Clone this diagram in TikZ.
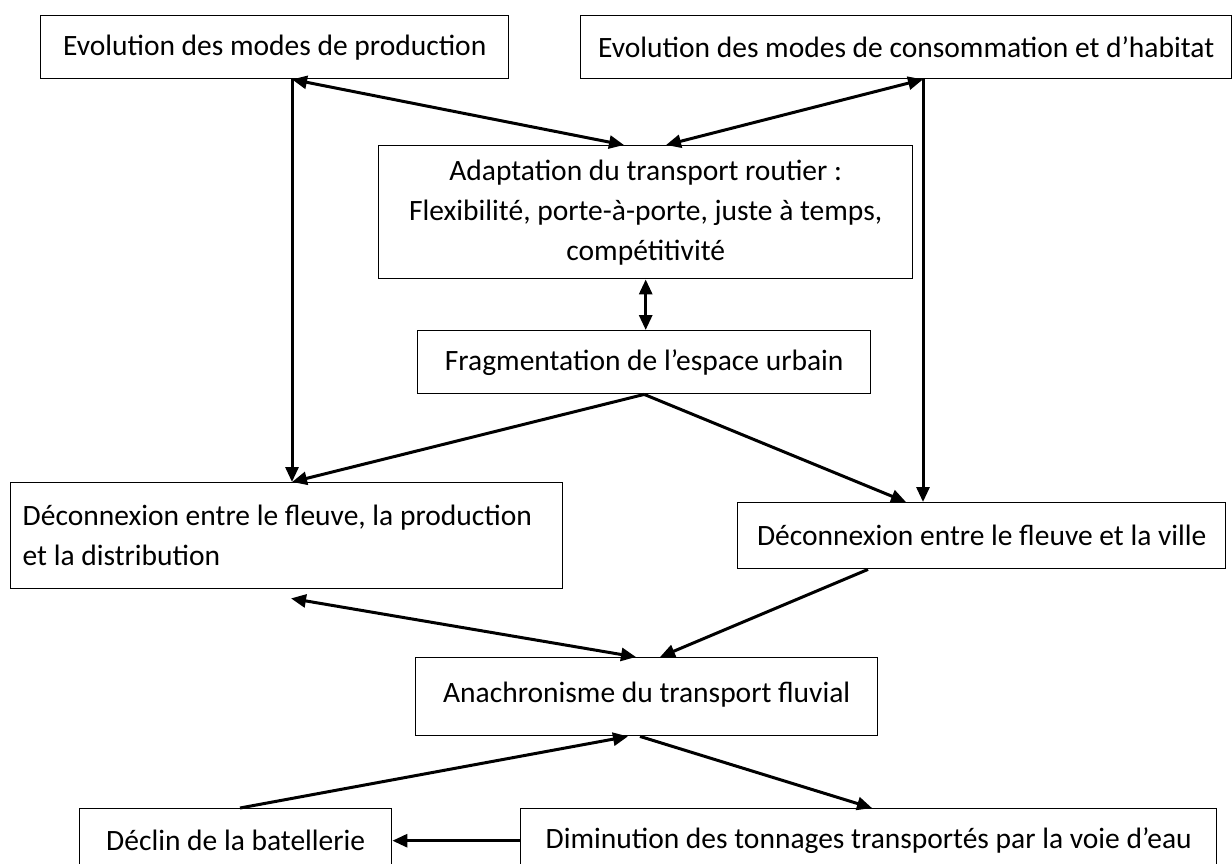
\documentclass[tikz,border=0pt]{standalone}
\usepackage{fontspec}
\setmainfont{Carlito}
\usetikzlibrary{arrows.meta,calc}
\begin{document}
\begin{tikzpicture}[x=1pt,y=-1pt,
  box/.style={draw, line width=1.4pt, rectangle, anchor=north west, inner sep=0pt, align=center,
    font=\fontsize{29.5}{40}\selectfont},
  conn/.style={line width=3pt},
  >={Triangle[length=15pt,width=13pt]}]
\useasboundingbox (0,0) rectangle (1232,863);
\fill[white] (0,0) rectangle (1232,863);
\clip (0,0) rectangle (1232,863);

\node[box, minimum width=468pt, minimum height=63pt] (prod) at (40,15) {Evolution des modes de production};
\node[box, minimum width=651pt, minimum height=63pt] (cons) at (580,15) {Evolution des modes de consommation et d’habitat};
\node[box, minimum width=534pt, minimum height=133pt] (adapt) at (378,145) {\raisebox{7pt}{\begin{tabular}{@{}c@{}}Adaptation du transport routier :\\Flexibilité, porte-à-porte, juste à temps,\\compétitivité\end{tabular}}};
\node[box, minimum width=453pt, minimum height=63pt] (frag) at (417,330) {Fragmentation de l’espace urbain};
\node[box, minimum width=552pt, minimum height=106pt, text width=528pt, align=flush left, inner xsep=12pt] (decA) at (10,482) {Déconnexion entre le fleuve, la production\\et la distribution};
\node[box, minimum width=488pt, minimum height=66pt] (decB) at (737,502) {Déconnexion entre le fleuve et la ville};
\node[box, minimum width=462pt, minimum height=78pt] (anach) at (415,657) {\raisebox{9pt}{Anachronisme du transport fluvial}};
\node[box, minimum width=312pt, minimum height=64pt] (declin) at (79,808) {Déclin de la batellerie};
\node[box, minimum width=696pt, minimum height=64pt] (dimin) at (520,808) {Diminution des tonnages transportés par la voie d’eau};

\draw[conn,->] ([xshift=252pt]prod.south west) -- ([xshift=282pt]decA.north west);
\draw[conn,<->] ([xshift=252pt]prod.south west) -- ([xshift=246pt]adapt.north west);
\draw[conn,<->] ([xshift=343pt]cons.south west) -- ([xshift=288pt]adapt.north west);
\draw[conn,->] ([xshift=343pt]cons.south west) -- ([xshift=186pt]decB.north west);
\draw[conn,<->] (adapt.south) -- (adapt.south |- frag.north);
\draw[conn,->] (frag.south) -- ([xshift=282pt]decA.north west);
\draw[conn,->] (frag.south) -- ([xshift=169pt]decB.north west);
\draw[conn,<->] ([xshift=281pt,yshift=-9pt]decA.south west) -- ([xshift=221pt]anach.north west);
\draw[conn,->] ([xshift=131pt]decB.south west) -- ([xshift=245pt]anach.north west);
\draw[conn,->] ([xshift=161pt]declin.north west) -- ([xshift=213pt]anach.south west);
\draw[conn,->] ([xshift=225pt]anach.south west) -- ([xshift=352pt]dimin.north west);
\draw[conn,->] (dimin.west) -- (declin.east);
\end{tikzpicture}
\end{document}
